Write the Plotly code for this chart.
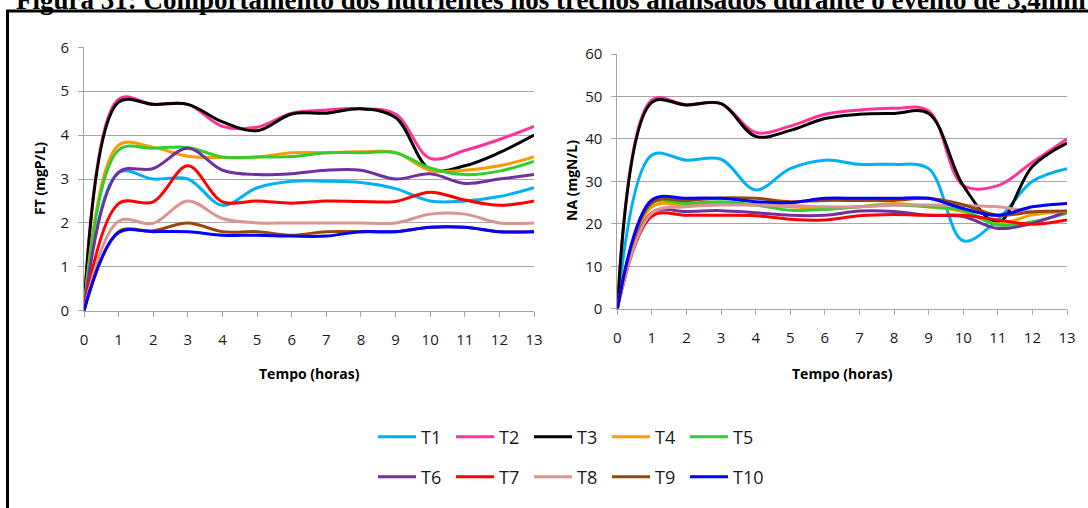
import plotly.graph_objects as go

W, H = 1088, 508

hours = list(range(14))
x_ticks = [str(h) for h in hours]
series = ["T1", "T2", "T3", "T4", "T5", "T6", "T7", "T8", "T9", "T10"]

# Fósforo total (mgP/L)
ft_T1 = [0, 3.15, 3.0, 3.0, 2.4, 2.8, 2.95, 2.95, 2.92, 2.78, 2.5, 2.5, 2.6, 2.8]
ft_T2 = [0, 4.82, 4.7, 4.7, 4.2, 4.18, 4.5, 4.57, 4.6, 4.48, 3.47, 3.65, 3.9, 4.2]
ft_T3 = [0, 4.75, 4.7, 4.7, 4.3, 4.1, 4.48, 4.5, 4.6, 4.4, 3.22, 3.3, 3.6, 4.0]
ft_T4 = [0, 3.77, 3.72, 3.52, 3.49, 3.5, 3.6, 3.6, 3.62, 3.6, 3.2, 3.2, 3.3, 3.5]
ft_T5 = [0, 3.66, 3.7, 3.72, 3.5, 3.5, 3.51, 3.6, 3.6, 3.6, 3.25, 3.1, 3.18, 3.4]
ft_T6 = [0, 3.15, 3.24, 3.7, 3.2, 3.1, 3.12, 3.2, 3.2, 3.0, 3.12, 2.9, 3.0, 3.1]
ft_T7 = [0, 2.44, 2.48, 3.3, 2.48, 2.5, 2.45, 2.5, 2.49, 2.49, 2.7, 2.52, 2.4, 2.5]
ft_T8 = [0, 2.04, 1.99, 2.5, 2.1, 2.0, 2.0, 2.0, 2.0, 2.0, 2.2, 2.2, 2.0, 2.0]
ft_T9 = [0, 1.8, 1.82, 2.0, 1.8, 1.8, 1.72, 1.8, 1.8, 1.8, 1.9, 1.9, 1.8, 1.8]
ft_T10 = [0, 1.78, 1.8, 1.8, 1.72, 1.72, 1.7, 1.7, 1.8, 1.8, 1.9, 1.9, 1.8, 1.8]

# Nitrogênio amoniacal (mgN/L)
na_T1 = [0, 36.2, 35.0, 35.2, 28.0, 33.0, 35.0, 34.0, 34.0, 33.0, 16.0, 21.0, 30.0, 33.0]
na_T2 = [0, 49.2, 48.0, 48.3, 41.5, 43.0, 45.8, 46.8, 47.2, 46.6, 29.0, 29.0, 34.5, 40.0]
na_T3 = [0, 48.6, 48.0, 48.3, 40.6, 42.0, 44.8, 45.8, 46.0, 46.0, 29.0, 20.3, 33.5, 39.0]
na_T4 = [0, 24.0, 24.4, 24.7, 24.4, 24.0, 23.5, 24.0, 24.8, 24.0, 22.9, 20.0, 22.1, 22.9]
na_T5 = [0, 24.8, 24.8, 25.2, 24.4, 23.2, 23.4, 24.0, 24.4, 24.0, 23.2, 19.7, 20.5, 22.5]
na_T6 = [0, 22.6, 22.9, 23.1, 22.6, 22.0, 22.0, 23.0, 22.9, 22.0, 21.7, 18.9, 20.1, 22.9]
na_T7 = [0, 21.8, 22.0, 22.0, 21.9, 21.1, 20.9, 21.9, 22.2, 22.0, 22.0, 20.9, 19.9, 20.9]
na_T8 = [0, 22.5, 24.0, 24.4, 24.4, 24.3, 24.0, 24.0, 24.4, 24.4, 24.3, 24.0, 22.9, 22.9]
na_T9 = [0, 25.0, 25.5, 26.1, 26.0, 25.2, 25.5, 25.5, 25.5, 26.0, 24.5, 22.0, 22.8, 23.0]
na_T10 = [0, 25.6, 26.0, 26.0, 25.2, 25.0, 26.0, 26.0, 26.0, 26.0, 23.6, 22.0, 24.0, 24.8]

ft = [ft_T1, ft_T2, ft_T3, ft_T4, ft_T5, ft_T6, ft_T7, ft_T8, ft_T9, ft_T10]
na = [na_T1, na_T2, na_T3, na_T4, na_T5, na_T6, na_T7, na_T8, na_T9, na_T10]

colors = ["#00B0F0", "#FF3399", "#000000", "#FF9900", "#33CC33",
          "#7030A0", "#FF0000", "#D99594", "#984806", "#0000FF"]

FONT = "Open Sans"
GRID = "#A6A6A6"
TEXT = "#1a1a1a"


def px_x(p):
    return p / W


def px_y(p):
    return (H - p) / H


fig = go.Figure()

for i, name in enumerate(series):
    fig.add_trace(go.Scatter(
        x=hours, y=ft[i], name=name, mode="lines",
        line=dict(color=colors[i], width=3, shape="spline", smoothing=1),
        xaxis="x", yaxis="y", legendgroup=name,
        legend="legend" if i < 5 else "legend2",
    ))
for i, name in enumerate(series):
    fig.add_trace(go.Scatter(
        x=hours, y=na[i], name=name, mode="lines", showlegend=False,
        line=dict(color=colors[i], width=3, shape="spline", smoothing=1),
        xaxis="x2", yaxis="y2", legendgroup=name,
    ))

axis_x = dict(
    range=[0, 13], tickvals=hours, ticktext=x_ticks, showgrid=False,
    showline=True, linecolor=GRID, linewidth=1, ticks="outside",
    ticklen=5, tickcolor=GRID, tickfont=dict(family=FONT, size=15, color=TEXT),
    ticklabelstandoff=10, zeroline=False, fixedrange=True, automargin=False,
)
axis_y = dict(
    showgrid=True, gridcolor=GRID, gridwidth=1, showline=True,
    linecolor=GRID, linewidth=1, ticks="outside", ticklen=5, tickcolor=GRID,
    tickfont=dict(family=FONT, size=15, color=TEXT), ticklabelstandoff=6,
    zeroline=False, fixedrange=True, automargin=False,
)

legend_common = dict(
    orientation="h", xanchor="left", yanchor="middle",
    font=dict(family=FONT, size=18, color=TEXT),
    entrywidth=25, entrywidthmode="pixels", itemwidth=38,
    bgcolor="rgba(0,0,0,0)",
)

fig.update_layout(
    template="none",
    width=W, height=H,
    margin=dict(l=0, r=0, t=0, b=0, pad=0, autoexpand=False),
    paper_bgcolor="white", plot_bgcolor="white",
    xaxis=dict(axis_x, domain=[px_x(84), px_x(534)], anchor="y"),
    yaxis=dict(axis_y, domain=[px_y(310.7), px_y(47.3)], range=[0, 6], dtick=1, anchor="x"),
    xaxis2=dict(axis_x, domain=[px_x(617.3), px_x(1067)], anchor="y2"),
    yaxis2=dict(axis_y, domain=[px_y(308.7), px_y(54)], range=[0, 60], dtick=10, anchor="x2"),
    legend=dict(legend_common, x=px_x(373), y=px_y(437)),
    legend2=dict(legend_common, x=px_x(373), y=px_y(477)),
    showlegend=True,
)

annotations = [
    dict(text="<b>FT (mgP/L)</b>", x=px_x(39), y=px_y(179), textangle=-90,
         font=dict(family=FONT, size=14, color="black")),
    dict(text="<b>NA (mgN/L)</b>", x=px_x(571), y=px_y(181), textangle=-90,
         font=dict(family=FONT, size=14, color="black")),
    dict(text="<b>Tempo (horas)</b>", x=px_x(309), y=px_y(373),
         font=dict(family=FONT, size=14, color="black")),
    dict(text="<b>Tempo (horas)</b>", x=px_x(842), y=px_y(373),
         font=dict(family=FONT, size=14, color="black")),
    dict(text="<b>Figura 31: Comportamento dos nutrientes nos trechos analisados durante o evento de 3,4mm</b>",
         x=px_x(14), y=px_y(-0.5), xanchor="left", yanchor="middle",
         font=dict(family="Liberation Serif", size=27, color="black")),
]
for a in annotations:
    a.setdefault("xanchor", "center")
    a.setdefault("yanchor", "middle")
    a.update(xref="paper", yref="paper", showarrow=False)
fig.update_layout(annotations=annotations)

# outer frame around the figure panel
fig.add_shape(type="line", xref="paper", yref="paper",
              x0=px_x(7.5), x1=px_x(7.5), y0=px_y(520), y1=px_y(11),
              line=dict(color="black", width=3))
fig.add_shape(type="line", xref="paper", yref="paper",
              x0=px_x(6), x1=px_x(1100), y0=px_y(11), y1=px_y(11),
              line=dict(color="black", width=3))

fig.write_html("out.html")
